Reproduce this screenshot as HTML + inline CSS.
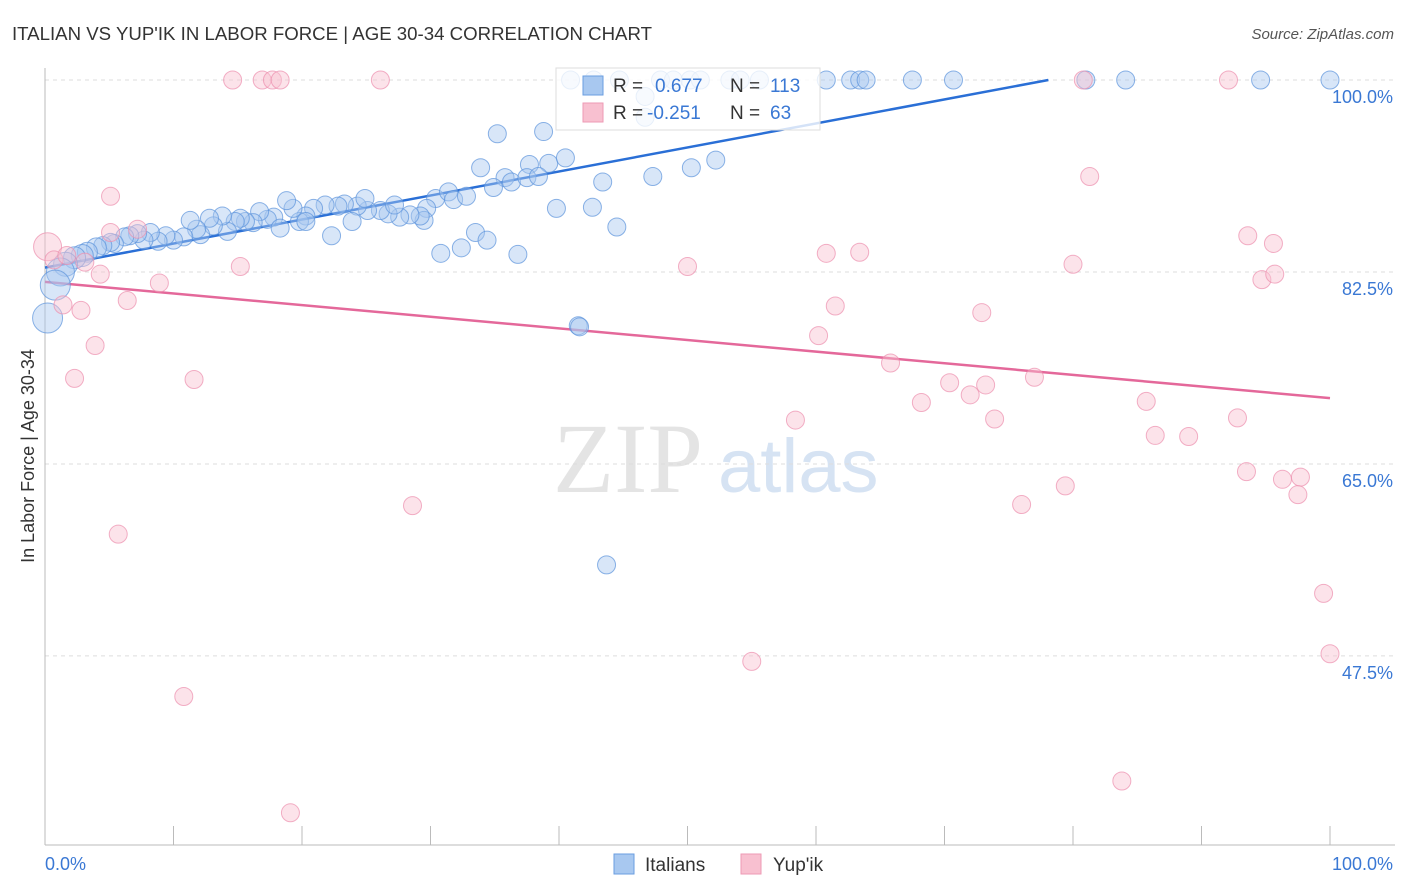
<!DOCTYPE html>
<html><head><meta charset="utf-8"><style>
body{margin:0;background:#fff;font-family:"Liberation Sans",sans-serif}
svg{display:block}
</style></head><body>
<svg id="chart" width="1406" height="892" xmlns="http://www.w3.org/2000/svg">
<text x="12" y="40" font-size="18" fill="#333" textLength="640" lengthAdjust="spacingAndGlyphs">ITALIAN VS YUP'IK IN LABOR FORCE | AGE 30-34 CORRELATION CHART</text>
<text x="1394" y="39" font-size="15" fill="#555" text-anchor="end" font-style="italic">Source: ZipAtlas.com</text>
<g>
<text x="553" y="492" font-size="100" font-family="Liberation Serif" fill="#e4e4e4">ZIP</text>
<text x="718" y="492" font-size="76" fill="#d6e3f3">atlas</text>
</g>
<g id="grid"></g>
<g id="axes"></g>
<g id="lines"></g>
<g id="pts"></g>
<g>
<rect x="556" y="68" width="264" height="62" fill="#fff" fill-opacity="0.8" stroke="#ddd"/>
<rect x="583" y="76" width="20" height="19" fill="#a8c8f0" stroke="#6a9ee0"/>
<rect x="583" y="103" width="20" height="19" fill="#f8c0d0" stroke="#ee9ab4"/>
<text x="613" y="92" font-size="19" fill="#333">R =</text>
<text x="655" y="92" font-size="19" fill="#3a78d4">0.677</text>
<text x="730" y="92" font-size="19" fill="#333">N =</text>
<text x="770" y="92" font-size="19" fill="#3a78d4">113</text>
<text x="613" y="119" font-size="19" fill="#333">R =</text>
<text x="647" y="119" font-size="19" fill="#3a78d4">-0.251</text>
<text x="730" y="119" font-size="19" fill="#333">N =</text>
<text x="770" y="119" font-size="19" fill="#3a78d4">63</text>
</g>
<g>
<rect x="614" y="854" width="20" height="20" fill="#a8c8f0" stroke="#6a9ee0"/>
<text x="645" y="871" font-size="19" fill="#333">Italians</text>
<rect x="741" y="854" width="20" height="20" fill="#f8c0d0" stroke="#ee9ab4"/>
<text x="773" y="871" font-size="19" fill="#333">Yup'ik</text>
</g>
<text transform="translate(34,456) rotate(-90)" font-size="18" fill="#333" text-anchor="middle">In Labor Force | Age 30-34</text>
</svg>
<script>
const blueX=[40.9,42.7,47.9,48.9,50.2,53.3,55.6,60.8,62.7,63.4,63.9,67.5,70.7,81.0,84.1,94.6,100,44.7,51.0,54.1,46.7,46.7,35.2,38.8,37.7,39.2,40.5,33.9,35.8,34.9,36.3,37.5,38.4,43.4,47.3,50.3,52.2,39.8,42.6,44.5,33.5,34.4,32.4,30.8,36.8,41.5,41.6,43.7,30.4,31.4,31.8,32.8,29.7,29.5,29.2,28.4,27.6,26.7,26.1,25.1,24.3,24.9,27.2,23.3,22.8,21.8,20.9,20.3,19.8,19.3,18.8,17.8,17.3,16.7,16.2,15.6,15.2,14.8,14.2,13.8,13.1,12.8,12.1,11.8,11.3,10.8,10.0,9.4,8.8,8.2,7.7,7.2,6.6,6.2,5.4,5.1,4.5,4.0,3.3,2.9,2.3,1.6,1.2,0.8,0.2,22.3,23.9,18.3,20.3];
const blueY=[100,100,100,100,100,100,100,100,100,100,100,100,100,100,100,100,100,100,100,100,98.5,96.6,95.1,95.3,92.3,92.4,92.9,92.0,91.1,90.2,90.7,91.1,91.2,90.7,91.2,92.0,92.7,88.3,88.4,86.6,86.1,85.4,84.7,84.2,84.1,77.6,77.5,55.8,89.2,89.8,89.1,89.4,88.3,87.2,87.6,87.7,87.5,87.8,88.1,88.1,88.5,89.2,88.6,88.7,88.5,88.6,88.3,87.6,87.1,88.3,89.0,87.5,87.3,88.0,87.0,87.1,87.4,87.1,86.2,87.6,86.7,87.4,85.9,86.4,87.2,85.7,85.4,85.8,85.3,86.1,85.4,86.0,85.8,85.7,85.1,85.2,84.9,84.7,84.3,84.0,83.8,83.2,82.5,81.3,78.3,85.8,87.1,86.5,87.1];
const pinkX=[14.6,16.9,17.7,18.3,26.1,80.8,92.1,5.1,0.2,0.7,1.7,3.1,4.3,6.4,8.9,2.8,1.4,3.9,2.3,11.6,15.2,5.7,10.8,19.1,28.6,50.0,60.8,63.4,61.5,60.2,65.8,68.2,70.4,72.0,73.2,73.9,72.9,77.0,58.4,55.0,76.0,79.4,80.0,81.3,85.7,86.4,89.0,83.8,92.8,93.6,95.6,94.7,95.7,93.5,96.3,97.7,97.5,99.5,100,5.1,7.2];
const pinkY=[100,100,100,100,100,100,100,89.4,84.8,83.6,84.0,83.4,82.3,79.9,81.5,79.0,79.5,75.8,72.8,72.7,83.0,58.6,43.8,33.2,61.2,83.0,84.2,84.3,79.4,76.7,74.2,70.6,72.4,71.3,72.2,69.1,78.8,72.9,69.0,47.0,61.3,63.0,83.2,91.2,70.7,67.6,67.5,36.1,69.2,85.8,85.1,81.8,82.3,64.3,63.6,63.8,62.2,53.2,47.7,86.1,86.4];
const blueTrend=[82.9,0.219];
const pinkTrend=[81.6,-0.106];
const yTicks=[100,82.5,65,47.5];
const yTickLabels=["100.0%","82.5%","65.0%","47.5%"];
const xTicks=[0,10,20,30,40,50,60,70,80,90,100];

const NS="http://www.w3.org/2000/svg";
const sx=v=>45+v*12.85, sy=v=>80+(100-v)*10.97;
function mk(tag,at,parent){const e=document.createElementNS(NS,tag);for(const k in at)e.setAttribute(k,at[k]);document.getElementById(parent).appendChild(e);return e;}
yTicks.forEach((t,i)=>{
 const l=mk('line',{x1:45,x2:1395,y1:sy(t),y2:sy(t),stroke:'#ddd','stroke-dasharray':'4,4'},'grid');
 
 
 const tx=mk('text',{x:1393,y:sy(t)+23,'font-size':18,fill:'#3a78d4','text-anchor':'end'},'axes');
 tx.textContent=yTickLabels[i];
 
 
});
mk('line',{x1:45,x2:45,y1:68,y2:845,stroke:'#bbb'},'axes');
mk('line',{x1:45,x2:1395,y1:845,y2:845,stroke:'#bbb'},'axes');
xTicks.forEach(t=>{const l=mk('line',{x1:sx(t),x2:sx(t),y1:826,y2:845,stroke:'#bbb'},'axes');
 
 });
let a=mk('text',{x:45,y:870,'font-size':18,fill:'#3a78d4'},'axes');a.textContent='0.0%';

a=mk('text',{x:1393,y:870,'font-size':18,fill:'#3a78d4','text-anchor':'end'},'axes');a.textContent='100.0%';

function rad(x){return x<1?15:x<1.5?14:x<2?12:x<3?11:x<4.2?10:9;}
blueX.forEach((x,i)=>{const c=mk('circle',{cx:sx(x),cy:sy(blueY[i]),r:rad(x),fill:'#a8c8f0','fill-opacity':0.45,stroke:'#5b93dc','stroke-opacity':0.7,'stroke-width':1},'pts');
 
 });
pinkX.forEach((x,i)=>{const c=mk('circle',{cx:sx(x),cy:sy(pinkY[i]),r:(x<0.5?14:9),fill:'#f8c0d0','fill-opacity':0.45,stroke:'#ec8fae','stroke-opacity':0.7,'stroke-width':1},'pts');
 
 });
const bEnd=Math.min(100,(100-blueTrend[0])/blueTrend[1]);
let ln=mk('line',{x1:sx(0),y1:sy(blueTrend[0]),x2:sx(bEnd),y2:sy(blueTrend[0]+blueTrend[1]*bEnd),stroke:'#2a6fd6','stroke-width':2.5},'lines');


ln=mk('line',{x1:sx(0),y1:sy(pinkTrend[0]),x2:sx(100),y2:sy(pinkTrend[0]+pinkTrend[1]*100),stroke:'#e4689a','stroke-width':2.5},'lines');


</script>
</body></html>
